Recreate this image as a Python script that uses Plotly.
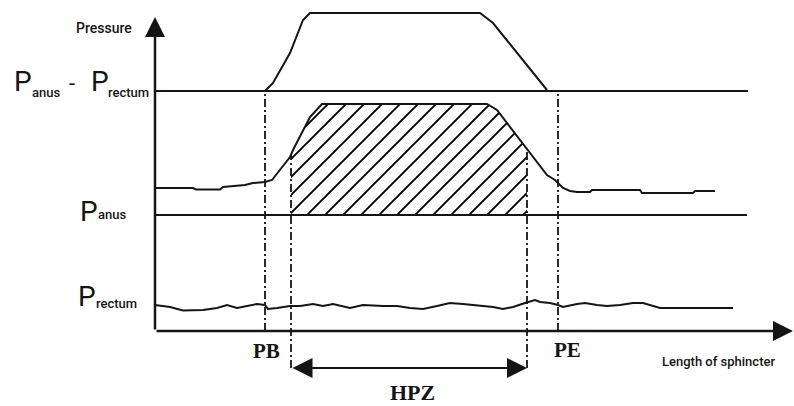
import numpy as np
import plotly.graph_objects as go

# ---- schematic data (x = length along sphincter, y = pressure) ----
diff_x = [110, 118, 135, 148, 155, 325, 338, 362, 392]
diff_y = [240, 248, 278, 311, 318, 318, 308, 278, 241]

anus_x = [0, 38, 41, 65, 68, 90, 98, 110, 117, 135, 138, 148, 155, 167, 332, 342, 355,
          367, 372, 385, 392, 400, 408, 415, 422, 435, 437, 485, 487, 538, 540, 560]
anus_y = [143, 143, 141.5, 141.5, 144, 146, 148, 149, 151, 174, 181, 201, 214, 227, 227, 221, 204,
          188, 181, 164, 156, 151, 143, 140, 139, 139, 141, 141, 138, 138, 140, 140]

rectum_x = [0, 15, 28, 48, 62, 72, 82, 88, 102, 110, 113, 122, 135, 145, 158, 168, 178, 195,
            208, 228, 242, 255, 268, 282, 295, 308, 338, 348, 358, 370, 380, 385, 395, 403,
            408, 422, 430, 442, 452, 465, 478, 488, 497, 505, 578]
rectum_y = [26, 24, 20.5, 21, 23, 26, 23, 24, 27, 26, 22, 23, 25, 25, 27, 25, 27, 23,
            26, 25, 25, 23, 22, 25, 28, 27, 24, 22, 24, 28, 31, 29, 28, 26,
            24, 27, 28, 26, 25, 26, 28, 28, 25, 23, 23]

diff_level = 240      # P_anus - P_rectum reference line
anus_level = 116      # P_anus reference line
ref_end = 593
PB, PE = 110, 403
HPZ_start, HPZ_end = 136, 372
arrow_y = -37
x_axis_end, y_axis_end = 638, 314

INK = "#151515"
SANS = "Roboto, Liberation Sans, DejaVu Sans, sans-serif"
SERIF = "Liberation Serif, DejaVu Serif, serif"

fig = go.Figure()

# hatched high pressure zone
ax_arr = np.array(anus_x, float)
ay_arr = np.array(anus_y, float)
y_start = float(np.interp(HPZ_start, ax_arr, ay_arr))
y_end = float(np.interp(HPZ_end, ax_arr, ay_arr))
mask = (ax_arr > HPZ_start) & (ax_arr < HPZ_end)
hx = [HPZ_start, HPZ_start] + list(ax_arr[mask]) + [HPZ_end, HPZ_end, HPZ_start]
hy = [anus_level, y_start] + list(ay_arr[mask]) + [y_end, anus_level, anus_level]
fig.add_trace(go.Scatter(
    x=hx, y=hy, mode="lines", fill="toself", line=dict(width=0, color="rgba(0,0,0,0)"),
    fillcolor="white",
    fillpattern=dict(shape="/", size=18 / np.sqrt(2), solidity=0.15, fgcolor="#000000",
                     bgcolor="white", fgopacity=1),
    hoverinfo="skip", showlegend=False))

def line(x, y, width=2, dash="solid"):
    fig.add_trace(go.Scatter(x=x, y=y, mode="lines",
                             line=dict(color=INK, width=width, dash=dash),
                             hoverinfo="skip", showlegend=False))

# reference lines
line([0, ref_end], [diff_level, diff_level])
line([0, ref_end - 1], [anus_level, anus_level])
# curves
line(diff_x, diff_y)
line(anus_x, anus_y)
line(rectum_x, rectum_y)

# dash-dot markers
dd = "8px,3px,2px,3px"
line([PB, PB], [0, diff_level], 1.8, dd)
line([PE, PE], [0, diff_level], 1.8, dd)
line([HPZ_start, HPZ_start], [arrow_y, y_start], 1.8, dd)
line([HPZ_end, HPZ_end], [arrow_y, y_end], 1.8, dd)

# axes with arrow heads
fig.add_annotation(x=x_axis_end, y=0, ax=0, ay=0, axref="x", ayref="y", xref="x", yref="y",
                   text="", showarrow=True, arrowhead=2, arrowsize=1.6, arrowwidth=2.5,
                   arrowcolor=INK)
fig.add_annotation(x=0, y=y_axis_end, ax=0, ay=0, axref="x", ayref="y", xref="x", yref="y",
                   text="", showarrow=True, arrowhead=2, arrowsize=1.6, arrowwidth=2.5,
                   arrowcolor=INK)
# HPZ double arrow
fig.add_annotation(x=HPZ_end, y=arrow_y, ax=HPZ_start, ay=arrow_y, axref="x", ayref="y",
                   xref="x", yref="y", text="", showarrow=True, arrowside="end+start",
                   arrowhead=2, startarrowhead=2, arrowsize=2, startarrowsize=2,
                   arrowwidth=2, arrowcolor=INK)

def label(x, y, text, size, family=SANS, weight="normal", xanchor="center", yanchor="middle"):
    fig.add_annotation(x=x, y=y, xref="x", yref="y", text=text, showarrow=False,
                       xanchor=xanchor, yanchor=yanchor, borderpad=0,
                       font=dict(family=family, size=size, color=INK, weight=weight))

# y-axis labels
label(-51, 303, "Pressure", 14, weight=500)
label(-142, 250, "P", 28, xanchor="left")
label(-124, 239, "anus", 13, weight=500, xanchor="left")
label(-83, 248, "-", 22)
label(-65, 250, "P", 28, xanchor="left")
label(-48, 239, "rectum", 13, weight=500, xanchor="left")

label(-76, 120, "P", 28, xanchor="left")
label(-58, 117, "anus", 13, weight=500, xanchor="left")

label(-78, 35, "P", 28, xanchor="left")
label(-60, 28, "rectum", 13, weight=500, xanchor="left")

# x labels
label(PB + 1, -20, "<b>PB</b>", 21, family=SERIF)
label(PE + 9, -19, "<b>PE</b>", 21, family=SERIF)
label(257, -75, "<b>HPZ</b>", 22, family=SERIF, yanchor="bottom")
label(563, -30, "Length of sphincter", 13, weight=500)

fig.update_layout(
    width=794, height=406, margin=dict(l=0, r=0, t=0, b=0),
    paper_bgcolor="white", plot_bgcolor="white",
    xaxis=dict(range=[-155, 639], visible=False, fixedrange=True),
    yaxis=dict(range=[-75, 331], visible=False, fixedrange=True),
    showlegend=False,
)
fig.write_html("out.html", config={"displayModeBar": False},
               post_script="document.body.style.margin='0';")
